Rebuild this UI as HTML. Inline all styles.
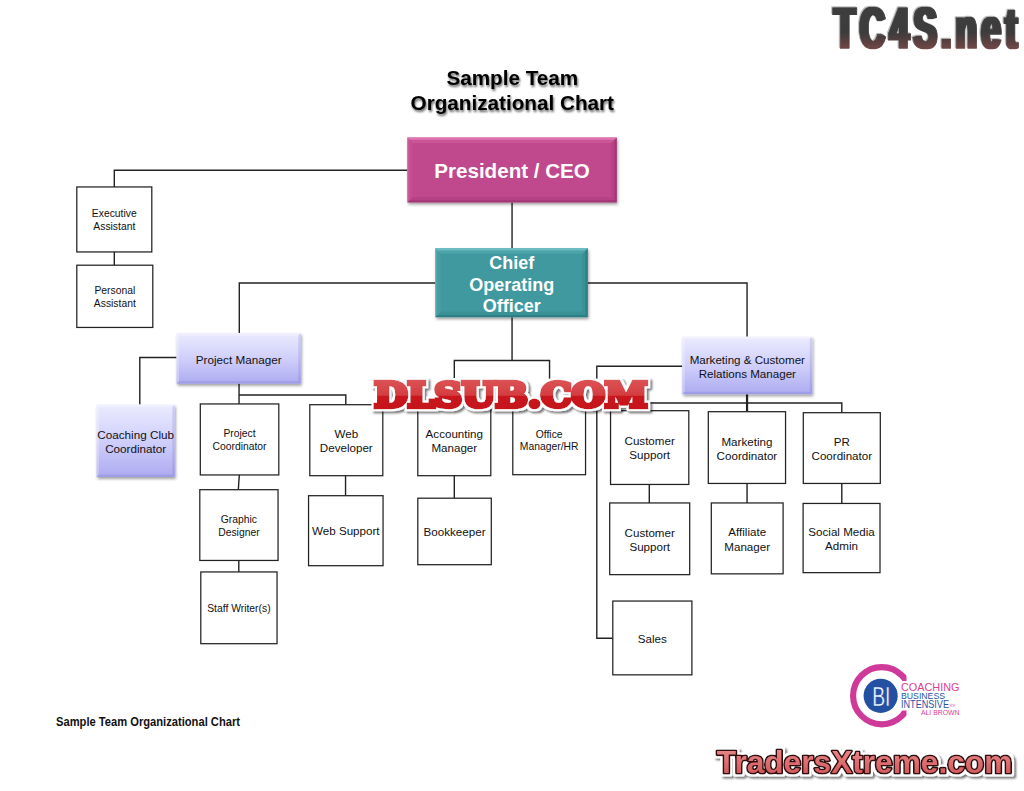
<!DOCTYPE html>
<html lang="en"><head><meta charset="utf-8"><title>Sample Team Organizational Chart</title>
<style>html,body{margin:0;padding:0;background:#fff;}body{width:1024px;height:791px;overflow:hidden;}svg{display:block;}text{font-family:"Liberation Sans", Arial, sans-serif;}</style></head><body>
<svg width="1024" height="791" viewBox="0 0 1024 791">
<defs>
<linearGradient id="lav" x1="0" y1="0" x2="0" y2="1"><stop offset="0" stop-color="#ebebfe"/><stop offset="0.5" stop-color="#d0cffb"/><stop offset="1" stop-color="#adabf0"/></linearGradient>
<linearGradient id="tc" x1="0" y1="0" x2="0" y2="1"><stop offset="0" stop-color="#3d3d3f"/><stop offset="0.58" stop-color="#3d3b3c"/><stop offset="0.8" stop-color="#6a4444"/><stop offset="1" stop-color="#925252"/></linearGradient>
<linearGradient id="tx" x1="0" y1="0" x2="0" y2="1"><stop offset="0" stop-color="#ea8f91"/><stop offset="0.5" stop-color="#de6f72"/><stop offset="1" stop-color="#cd4f53"/></linearGradient>
<linearGradient id="dl" x1="0" y1="0" x2="0" y2="1"><stop offset="0" stop-color="#de5a5c"/><stop offset="0.5" stop-color="#d43d40"/><stop offset="0.52" stop-color="#c8181e"/><stop offset="1" stop-color="#c4141a"/></linearGradient>
<filter id="sh" x="-20%" y="-20%" width="140%" height="150%"><feGaussianBlur in="SourceAlpha" stdDeviation="1.8"/><feOffset dx="0.7" dy="2.3"/><feComponentTransfer><feFuncA type="linear" slope="0.38"/></feComponentTransfer><feMerge><feMergeNode/><feMergeNode in="SourceGraphic"/></feMerge></filter>
<filter id="tsh" x="-10%" y="-20%" width="120%" height="150%"><feGaussianBlur in="SourceAlpha" stdDeviation="1.2"/><feOffset dx="0.5" dy="1.8"/><feComponentTransfer><feFuncA type="linear" slope="0.6"/></feComponentTransfer><feMerge><feMergeNode/><feMergeNode in="SourceGraphic"/></feMerge></filter>
<filter id="wsh" x="-10%" y="-30%" width="120%" height="170%"><feGaussianBlur in="SourceAlpha" stdDeviation="1"/><feOffset dx="1.6" dy="2"/><feComponentTransfer><feFuncA type="linear" slope="0.55"/></feComponentTransfer><feMerge><feMergeNode/><feMergeNode in="SourceGraphic"/></feMerge></filter>
<filter id="fat" x="-5%" y="-10%" width="110%" height="125%"><feMorphology in="SourceGraphic" operator="dilate" radius="2 0" result="f"/><feOffset in="f" dx="-1" dy="-1" result="o"/><feFlood flood-color="#bdbdbd"/><feComposite in2="o" operator="in" result="hl"/><feMerge><feMergeNode in="hl"/><feMergeNode in="f"/></feMerge></filter>
<filter id="ol" x="-5%" y="-30%" width="110%" height="170%"><feMorphology in="SourceAlpha" operator="dilate" radius="1.5" result="o"/><feGaussianBlur in="o" stdDeviation="1"/><feOffset dx="1.6" dy="2"/><feComponentTransfer result="s"><feFuncA type="linear" slope="0.55"/></feComponentTransfer><feFlood flood-color="#fff"/><feComposite in2="o" operator="in" result="w"/><feMerge><feMergeNode in="s"/><feMergeNode in="w"/><feMergeNode in="SourceGraphic"/></feMerge></filter>
</defs>
<g transform="translate(0.3,0.45)">
<g fill="none" stroke="#222" stroke-width="1.4">
<path d="M407,169.75 H114 V186.5"/>
<path d="M114,251.5 V264.75"/>
<path d="M511.75,202 V247.75"/>
<path d="M435,282.5 H239 V332.5"/>
<path d="M587.5,282.5 H746.75 V336.25"/>
<path d="M511.75,316.75 V360"/>
<path d="M454,404 V360 H549.25 V404"/>
<path d="M176.25,357 H139.5 V404"/>
<path d="M238.75,383 V403.5"/>
<path d="M238.75,394.5 H345.5 V404.25"/>
<path d="M239,474.5 L238,489.25"/>
<path d="M238.5,560 V571.5"/>
<path d="M345.25,475.25 V495.25"/>
<path d="M454,475.25 V497.75"/>
<path d="M682,365.75 H596.5 V637.8 H612.5"/>
<path d="M648.5,410.25 V402.5 H841.5 V412.25"/>
<path d="M649,484 V502.5"/>
<path d="M746.75,483 V502.5"/>
<path d="M841.5,483 V503"/>
<path d="M746.75,393.75 V411.25" stroke-width="2.2"/>
</g>
<g fill="#fff" stroke="#222" stroke-width="1.25">
<rect x="76.50" y="186.50" width="75.00" height="65.00"/>
<rect x="76.50" y="264.75" width="76.00" height="62.25"/>
<rect x="200.00" y="403.50" width="78.50" height="71.00"/>
<rect x="199.50" y="489.25" width="78.25" height="70.75"/>
<rect x="200.50" y="571.50" width="76.25" height="71.75"/>
<rect x="309.50" y="404.25" width="73.00" height="71.00"/>
<rect x="308.25" y="495.25" width="74.50" height="70.00"/>
<rect x="417.50" y="404.00" width="73.00" height="71.25"/>
<rect x="417.50" y="497.75" width="73.50" height="66.50"/>
<rect x="512.50" y="404.00" width="72.75" height="70.25"/>
<rect x="610.25" y="410.25" width="78.25" height="73.75"/>
<rect x="609.40" y="502.50" width="80.00" height="71.70"/>
<rect x="708.00" y="411.25" width="77.25" height="71.75"/>
<rect x="711.00" y="502.50" width="71.80" height="70.90"/>
<rect x="803.00" y="412.25" width="77.00" height="70.75"/>
<rect x="802.80" y="503.00" width="76.90" height="69.20"/>
<rect x="612.50" y="600.60" width="79.10" height="73.80"/>
</g>
<text x="114.00" y="217.00" font-size="10.35" text-anchor="middle" fill="#111" font-weight="normal">Executive</text>
<text x="114.00" y="230.00" font-size="10.35" text-anchor="middle" fill="#111" font-weight="normal">Assistant</text>
<text x="114.50" y="293.75" font-size="10.35" text-anchor="middle" fill="#111" font-weight="normal">Personal</text>
<text x="114.50" y="306.50" font-size="10.35" text-anchor="middle" fill="#111" font-weight="normal">Assistant</text>
<text x="239.25" y="437.00" font-size="10.35" text-anchor="middle" fill="#111" font-weight="normal">Project</text>
<text x="239.25" y="450.00" font-size="10.35" text-anchor="middle" fill="#111" font-weight="normal">Coordinator</text>
<text x="238.62" y="522.50" font-size="10.35" text-anchor="middle" fill="#111" font-weight="normal">Graphic</text>
<text x="238.62" y="535.50" font-size="10.35" text-anchor="middle" fill="#111" font-weight="normal">Designer</text>
<text x="238.62" y="611.75" font-size="10.35" text-anchor="middle" fill="#111" font-weight="normal">Staff Writer(s)</text>
<text x="346.00" y="437.50" font-size="11.6" text-anchor="middle" fill="#111" font-weight="normal">Web</text>
<text x="346.00" y="451.75" font-size="11.6" text-anchor="middle" fill="#111" font-weight="normal">Developer</text>
<text x="345.50" y="535.00" font-size="11.6" text-anchor="middle" fill="#111" font-weight="normal">Web Support</text>
<text x="454.00" y="437.50" font-size="11.6" text-anchor="middle" fill="#111" font-weight="normal">Accounting</text>
<text x="454.00" y="451.75" font-size="11.6" text-anchor="middle" fill="#111" font-weight="normal">Manager</text>
<text x="454.25" y="535.50" font-size="11.6" text-anchor="middle" fill="#111" font-weight="normal">Bookkeeper</text>
<text x="548.88" y="437.50" font-size="10.35" text-anchor="middle" fill="#111" font-weight="normal">Office</text>
<text x="548.88" y="450.00" font-size="10.35" text-anchor="middle" fill="#111" font-weight="normal">Manager/HR</text>
<text x="649.38" y="445.00" font-size="11.6" text-anchor="middle" fill="#111" font-weight="normal">Customer</text>
<text x="649.38" y="459.00" font-size="11.6" text-anchor="middle" fill="#111" font-weight="normal">Support</text>
<text x="649.40" y="536.50" font-size="11.6" text-anchor="middle" fill="#111" font-weight="normal">Customer</text>
<text x="649.40" y="550.50" font-size="11.6" text-anchor="middle" fill="#111" font-weight="normal">Support</text>
<text x="746.62" y="445.25" font-size="11.6" text-anchor="middle" fill="#111" font-weight="normal">Marketing</text>
<text x="746.62" y="459.50" font-size="11.6" text-anchor="middle" fill="#111" font-weight="normal">Coordinator</text>
<text x="746.90" y="536.00" font-size="11.6" text-anchor="middle" fill="#111" font-weight="normal">Affiliate</text>
<text x="746.90" y="550.30" font-size="11.6" text-anchor="middle" fill="#111" font-weight="normal">Manager</text>
<text x="841.50" y="445.25" font-size="11.6" text-anchor="middle" fill="#111" font-weight="normal">PR</text>
<text x="841.50" y="459.50" font-size="11.6" text-anchor="middle" fill="#111" font-weight="normal">Coordinator</text>
<text x="841.25" y="535.60" font-size="11.6" text-anchor="middle" fill="#111" font-weight="normal">Social Media</text>
<text x="841.25" y="549.40" font-size="11.6" text-anchor="middle" fill="#111" font-weight="normal">Admin</text>
<text x="652.05" y="642.20" font-size="11.6" text-anchor="middle" fill="#111" font-weight="normal">Sales</text>
<g filter="url(#sh)"><rect x="176.25" y="332.50" width="124.25" height="50.75" fill="url(#lav)"/></g>
<path d="M176.25,332.50 H300.50 L298.00,335.00 H178.75 Z" fill="rgba(255,255,255,0.3)"/>
<path d="M176.25,332.50 V383.25 L178.75,380.75 V335.00 Z" fill="rgba(255,255,255,0.3)" opacity="0.9"/>
<path d="M176.25,383.25 H300.50 L298.00,380.75 H178.75 Z" fill="rgba(90,86,190,0.18)"/>
<path d="M300.50,332.50 V383.25 L298.00,380.75 V335.00 Z" fill="rgba(90,86,190,0.18)"/>
<text x="238.38" y="364.00" font-size="11.7" text-anchor="middle" fill="#111" font-weight="normal">Project Manager</text>
<g filter="url(#sh)"><rect x="96.25" y="404.25" width="78.25" height="72.25" fill="url(#lav)"/></g>
<path d="M96.25,404.25 H174.50 L172.00,406.75 H98.75 Z" fill="rgba(255,255,255,0.3)"/>
<path d="M96.25,404.25 V476.50 L98.75,474.00 V406.75 Z" fill="rgba(255,255,255,0.3)" opacity="0.9"/>
<path d="M96.25,476.50 H174.50 L172.00,474.00 H98.75 Z" fill="rgba(90,86,190,0.18)"/>
<path d="M174.50,404.25 V476.50 L172.00,474.00 V406.75 Z" fill="rgba(90,86,190,0.18)"/>
<text x="135.38" y="439.00" font-size="11.7" text-anchor="middle" fill="#111" font-weight="normal">Coaching Club</text>
<text x="135.38" y="453.00" font-size="11.7" text-anchor="middle" fill="#111" font-weight="normal">Coordinator</text>
<g filter="url(#sh)"><rect x="682.00" y="336.25" width="130.00" height="57.50" fill="url(#lav)"/></g>
<path d="M682.00,336.25 H812.00 L809.50,338.75 H684.50 Z" fill="rgba(255,255,255,0.3)"/>
<path d="M682.00,336.25 V393.75 L684.50,391.25 V338.75 Z" fill="rgba(255,255,255,0.3)" opacity="0.9"/>
<path d="M682.00,393.75 H812.00 L809.50,391.25 H684.50 Z" fill="rgba(90,86,190,0.18)"/>
<path d="M812.00,336.25 V393.75 L809.50,391.25 V338.75 Z" fill="rgba(90,86,190,0.18)"/>
<text x="747.00" y="363.75" font-size="11.6" text-anchor="middle" fill="#111" font-weight="normal">Marketing &amp; Customer</text>
<text x="747.00" y="377.75" font-size="11.6" text-anchor="middle" fill="#111" font-weight="normal">Relations Manager</text>
<g filter="url(#sh)"><rect x="407.00" y="137.00" width="209.50" height="65.00" fill="#c04a8e"/></g>
<path d="M407.00,137.00 H616.50 L611.00,142.50 H412.50 Z" fill="rgba(236,130,188,0.22)"/>
<path d="M407.00,137.00 V202.00 L412.50,196.50 V142.50 Z" fill="rgba(236,130,188,0.22)" opacity="0.35"/>
<path d="M407.00,202.00 H616.50 L611.00,196.50 H412.50 Z" fill="rgba(120,30,85,0.14)"/>
<path d="M616.50,137.00 V202.00 L611.00,196.50 V142.50 Z" fill="rgba(120,30,85,0.14)"/>
<path d="M407.00,137.00 H616.50 L614.30,139.20 H409.20 Z" fill="rgba(240,135,192,0.6)"/>
<path d="M407.00,137.00 V202.00 L409.20,199.80 V139.20 Z" fill="rgba(240,135,192,0.6)" opacity="0.35"/>
<path d="M407.00,202.00 H616.50 L614.30,199.80 H409.20 Z" fill="rgba(120,30,85,0.32)"/>
<path d="M616.50,137.00 V202.00 L614.30,199.80 V139.20 Z" fill="rgba(120,30,85,0.32)"/>
<text x="511.75" y="177.8" font-size="20.6" font-weight="bold" text-anchor="middle" fill="#fff">President / CEO</text>
<g filter="url(#sh)"><rect x="435.00" y="247.75" width="152.50" height="69.00" fill="#3f999e"/></g>
<path d="M435.00,247.75 H587.50 L582.00,253.25 H440.50 Z" fill="rgba(120,205,210,0.22)"/>
<path d="M435.00,247.75 V316.75 L440.50,311.25 V253.25 Z" fill="rgba(120,205,210,0.22)" opacity="0.35"/>
<path d="M435.00,316.75 H587.50 L582.00,311.25 H440.50 Z" fill="rgba(20,95,100,0.15)"/>
<path d="M587.50,247.75 V316.75 L582.00,311.25 V253.25 Z" fill="rgba(20,95,100,0.15)"/>
<path d="M435.00,247.75 H587.50 L585.30,249.95 H437.20 Z" fill="rgba(125,205,210,0.6)"/>
<path d="M435.00,247.75 V316.75 L437.20,314.55 V249.95 Z" fill="rgba(125,205,210,0.6)" opacity="0.35"/>
<path d="M435.00,316.75 H587.50 L585.30,314.55 H437.20 Z" fill="rgba(20,95,100,0.33)"/>
<path d="M587.50,247.75 V316.75 L585.30,314.55 V249.95 Z" fill="rgba(20,95,100,0.33)"/>
<text x="511.5" y="268.25" font-size="18" font-weight="bold" text-anchor="middle" fill="#fff">Chief</text>
<text x="511.5" y="290.50" font-size="18" font-weight="bold" text-anchor="middle" fill="#fff">Operating</text>
<text x="511.5" y="311.75" font-size="18" font-weight="bold" text-anchor="middle" fill="#fff">Officer</text>
</g>
<g filter="url(#tsh)" font-weight="bold" font-size="20.7" text-anchor="middle" fill="#050505">
<text x="512.3" y="84.8">Sample Team</text><text x="512.3" y="109.6">Organizational Chart</text></g>
<text x="56" y="725.7" font-size="12" font-weight="bold" fill="#111" textLength="184" lengthAdjust="spacingAndGlyphs">Sample Team Organizational Chart</text>
<g filter="url(#fat)"><text transform="translate(834.3,47.6) scale(0.6,1)" font-size="57" font-weight="bold" fill="url(#tc)" stroke="url(#tc)" stroke-width="1.3" stroke-linejoin="round" letter-spacing="8.2">TC4S.net</text></g>
<g filter="url(#ol)"><text x="374.2" y="407.3" textLength="273.1" lengthAdjust="spacingAndGlyphs" font-size="34" font-weight="bold" stroke-linejoin="miter" stroke-miterlimit="3" style="font-family:'DejaVu Serif','Liberation Serif',serif" fill="url(#dl)" stroke="url(#dl)" stroke-width="4.6">DLSUB.COM</text></g>
<g filter="url(#ol)"><text x="716.8" y="772.8" font-size="30.5" font-weight="bold" textLength="295.5" lengthAdjust="spacingAndGlyphs" stroke-linejoin="round" fill="url(#tx)" stroke="#301010" stroke-width="3.2" paint-order="stroke">TradersXtreme.com</text></g>
<g>
<clipPath id="cc"><path d="M840,650 H906.5 V681 H897 V710.4 H906.5 V740 H840 Z"/></clipPath>
<circle cx="881.7" cy="695.7" r="28.6" fill="none" stroke="#cf3a9a" stroke-width="6.2" clip-path="url(#cc)"/>
<circle cx="880.65" cy="695.8" r="17.1" fill="#2450a4"/>
<text x="872.2" y="705.6" font-size="27" fill="#fff" stroke="#2450a4" stroke-width="0.45" paint-order="fill stroke" textLength="18.3" lengthAdjust="spacingAndGlyphs">BI</text>
<g>
<text x="901" y="691" font-size="10.3" fill="#e0408f" textLength="58.4" lengthAdjust="spacingAndGlyphs">COACHING</text>
<text x="901" y="698.75" font-size="9.2" fill="#2a55a5" textLength="44" lengthAdjust="spacingAndGlyphs">BUSINESS</text>
<text x="901" y="707.5" font-size="10.4" fill="#2a55a5" textLength="48" lengthAdjust="spacingAndGlyphs">INTENSIVE</text>
<text x="949.5" y="707" font-size="3.2" fill="#e0408f" textLength="5.5" lengthAdjust="spacingAndGlyphs">WITH</text>
<text x="921" y="715.3" font-size="7.1" fill="#e0408f" textLength="38.4" lengthAdjust="spacingAndGlyphs">ALI BROWN</text>
</g></g>
</svg></body></html>
